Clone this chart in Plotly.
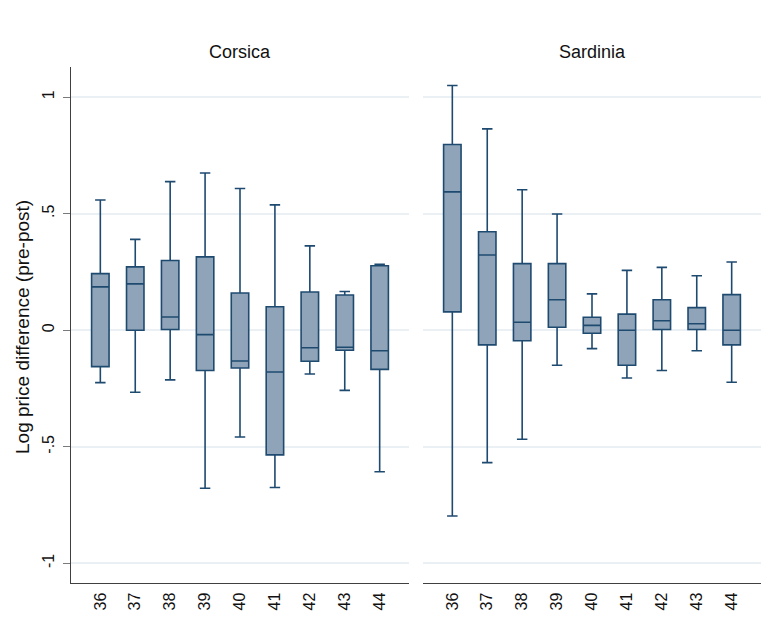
import plotly.graph_objects as go
from plotly.subplots import make_subplots

# categories on the x axis
categories = ["36", "37", "38", "39", "40", "41", "42", "43", "44"]

# Corsica box summaries
cor_upper = [0.559, 0.390, 0.638, 0.675, 0.608, 0.538, 0.362, 0.166, 0.283]
cor_q3 = [0.243, 0.272, 0.299, 0.315, 0.160, 0.101, 0.164, 0.151, 0.277]
cor_median = [0.186, 0.199, 0.057, -0.019, -0.132, -0.179, -0.075, -0.073, -0.088]
cor_q1 = [-0.156, 0.000, 0.003, -0.173, -0.162, -0.535, -0.133, -0.086, -0.168]
cor_lower = [-0.225, -0.266, -0.213, -0.678, -0.458, -0.675, -0.188, -0.258, -0.607]

# Sardinia box summaries
sar_upper = [1.050, 0.864, 0.603, 0.499, 0.156, 0.257, 0.270, 0.234, 0.293]
sar_q3 = [0.797, 0.423, 0.286, 0.286, 0.056, 0.069, 0.131, 0.097, 0.153]
sar_median = [0.594, 0.323, 0.034, 0.131, 0.021, 0.000, 0.041, 0.028, 0.000]
sar_q1 = [0.079, -0.063, -0.045, 0.013, -0.013, -0.150, 0.003, 0.003, -0.063]
sar_lower = [-0.797, -0.568, -0.468, -0.150, -0.079, -0.205, -0.173, -0.088, -0.223]

ytick_vals = [-1, -0.5, 0, 0.5, 1]
ytick_text = ["-1", "-.5", "0", ".5", "1"]

line_col = "#1f4a70"
fill_col = "#8fa4b8"
grid_col = "#eaf0f4"
axis_col = "#404040"
font_fam = "Liberation Sans, Arial, sans-serif"

# page body adds an 8px margin, so the figure is 8px smaller than the window
W, H = 768, 633

fig = make_subplots(rows=1, cols=2, shared_yaxes=True)

panels = [(cor_lower, cor_q1, cor_median, cor_q3, cor_upper),
          (sar_lower, sar_q1, sar_median, sar_q3, sar_upper)]
for i, (lo, q1, med, q3, up) in enumerate(panels):
    fig.add_trace(go.Box(x=categories, q1=q1, median=med, q3=q3,
                         lowerfence=lo, upperfence=up,
                         fillcolor=fill_col,
                         line=dict(color=line_col, width=1.6),
                         whiskerwidth=0.6, width=0.5,
                         boxpoints=False, showlegend=False,
                         hoverinfo="skip"),
                  row=1, col=i + 1)

fig.update_layout(width=W, height=H,
                  margin=dict(l=0, r=0, t=0, b=0),
                  paper_bgcolor="white", plot_bgcolor="white",
                  font=dict(family=font_fam, color="#111111"))

fig.update_xaxes(type="category", range=[-0.84, 8.84], automargin=False,
                 showline=True, linecolor=axis_col, linewidth=1,
                 ticks="", tickangle=-90, tickfont=dict(size=16),
                 ticklabelstandoff=2,
                 showgrid=False, zeroline=False)
fig.update_xaxes(domain=[63/W, 401/W], row=1, col=1)
fig.update_xaxes(domain=[415/W, 753/W], row=1, col=2)

fig.update_yaxes(range=[-1.086, 1.131], domain=[1 - 575.3/H, 1 - 58.7/H], automargin=False,
                 tickvals=ytick_vals, ticktext=ytick_text,
                 showgrid=True, gridcolor=grid_col, gridwidth=1.5,
                 zeroline=False)
fig.update_yaxes(showline=True, linecolor=axis_col, linewidth=1,
                 ticks="outside", ticklen=7, tickcolor="#7a7a7a",
                 tickangle=-90, tickfont=dict(size=16),
                 ticklabelstandoff=3, row=1, col=1)
fig.update_yaxes(showline=False, ticks="", showticklabels=False, row=1, col=2)

fig.add_annotation(text="Corsica", x=232/W, y=1 - 44/H, xref="paper", yref="paper",
                   xanchor="center", yanchor="middle",
                   showarrow=False, font=dict(size=18))
fig.add_annotation(text="Sardinia", x=584/W, y=1 - 44/H, xref="paper", yref="paper",
                   xanchor="center", yanchor="middle",
                   showarrow=False, font=dict(size=18))
fig.add_annotation(text="Log price difference (pre-post)", x=14/W, y=1 - 319/H,
                   xref="paper", yref="paper", textangle=-90,
                   xanchor="center", yanchor="middle",
                   showarrow=False, font=dict(size=19))

fig.write_html("out.html")
